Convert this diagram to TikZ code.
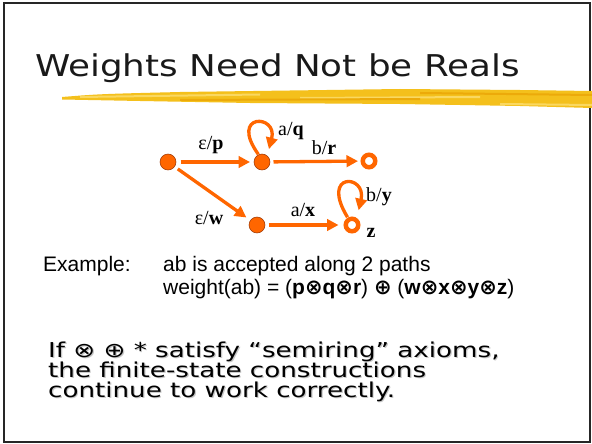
\documentclass[tikz,border=0pt]{standalone}
\usepackage{fontspec}
\usepackage{graphicx}
\setmainfont{Liberation Sans}
\newfontfamily\djv{DejaVu Sans}
\newfontfamily\tms{Liberation Serif}
\usetikzlibrary{arrows.meta}
\definecolor{orangeC}{RGB}{255,102,0}
\definecolor{edgeC}{RGB}{150,50,0}
\definecolor{brushA}{RGB}{244,192,28}
\definecolor{brushB}{RGB}{250,216,96}
\definecolor{brushC}{RGB}{236,170,10}
\newcommand{\otm}{{\djv ⊗}}
\newcommand{\opm}{{\djv ⊕}}
\newcommand{\wide}[1]{\scalebox{1.19}[1]{#1}}
\newcommand{\wider}[1]{\scalebox{1.275}[1]{#1}}
\newcommand{\shad}[1]{\rlap{\raisebox{-1pt}{\hspace{0.9pt}\textcolor{black!22}{#1}}}#1}
\newcommand{\bottext}{\vbox{\lineskiplimit=-100pt\lineskip=0pt\baselineskip=20pt\hbox{If ⊗ ⊕ * satisfy “semiring” axioms,}\hbox{the finite-state constructions}\hbox{continue to work correctly.}}}
\begin{document}
\begin{tikzpicture}[x=1pt,y=-1pt,
  state/.style={circle, fill=orangeC, draw=edgeC, line width=0.5pt, minimum size=16pt, inner sep=0pt, outer sep=0pt},
  final/.style={circle, fill=white, draw=orangeC, line width=4.5pt, minimum size=12.5pt, inner sep=0pt},
  arr/.style={draw=orangeC, line width=3.3pt, -{Triangle[length=11.5pt,width=11.5pt]}},
  lab/.style={font=\tms\fontsize{20}{20}\selectfont, inner sep=0pt},
  txt/.style={font=\fontsize{21}{24}\selectfont, inner sep=0pt, anchor=base west},
  big/.style={font=\djv\fontsize{20.5}{20}\selectfont, inner sep=0pt, anchor=base west}
]
\useasboundingbox (0,0) rectangle (592,444);
\fill[white] (0,0) rectangle (592,444);
\draw[line width=2pt, black!85] (4,3) rectangle (590,442);

% brush stroke
\fill[brushA] (62,97) .. controls (100,94) .. (180,92) -- (400,89) -- (520,90) -- (592,91) -- (592,108) -- (520,106) -- (400,104) -- (250,103) -- (140,101) -- (62,99.5) -- cycle;
\fill[brushB] (80,96) -- (260,93.5) -- (260,95.5) -- (80,98) -- cycle;
\fill[brushB] (300,97) -- (480,96) -- (480,98) -- (300,99) -- cycle;
\fill[brushB] (500,103) -- (592,104) -- (592,106) -- (500,105) -- cycle;
\fill[brushC] (180,99) -- (420,98) -- (420,100) -- (180,101) -- cycle;
\fill[brushC] (420,92) -- (592,94) -- (592,96) -- (420,94) -- cycle;

% title
\node[anchor=base west, inner sep=0pt, text=black!90] (title) at (35,77)
  {\wide{\djv\fontsize{30}{30}\selectfont Weights Need Not be Reals}};

% automaton
\node[state] (s1) at (168,162) {};
\node[state] (s2) at (262,162) {};
\node[final] (s3) at (369,161) {};
\node[state] (s4) at (257,225) {};
\node[final] (s5) at (352,225) {};

\draw[arr, shorten <=4.5pt, shorten >=4pt] (s1) -- (s2);
\draw[arr, shorten <=3.5pt, shorten >=2.5pt] (s2) -- (s3);
\draw[arr, shorten <=4pt, shorten >=5pt] (s1) -- (s4);
\draw[arr, shorten <=3.5pt, shorten >=5pt] (s4) -- (s5);
\draw[arr, shorten <=0.5pt, shorten >=7pt] (s2.115) .. controls +(-30,-42) and +(11,-42) .. (s2.50);
\draw[arr, shorten <=0.5pt, shorten >=8pt] (s5.120) .. controls +(-28,-46) and +(10,-44) .. (s5.55);

\node[lab] (lp) at (211,145) {ε/\textbf{p}};
\node[lab] (lq) at (291,131) {a/\textbf{q}};
\node[lab] (lr) at (324,148) {b/\textbf{r}};
\node[lab] (lw) at (209,218) {ε/\textbf{w}};
\node[lab] (lx) at (303,210) {a/\textbf{x}};
\node[lab] (ly) at (379,197) {b/\textbf{y}};
\node[lab] (lz) at (371,233) {\textbf{z}};

% example text
\node[txt] (ex) at (43,271) {Example:};
\node[txt] (l1) at (163,271) {ab is accepted along 2 paths};
\node[txt] (l2) at (163,294) {weight(ab) = (\textbf{p\otm q\otm r}) \textbf{\opm} (\textbf{w\otm x\otm y\otm z})};

% bottom text with light shadow (one block, baseline of last line)
\node[big] (bottom) at (48,397) {\wider{\shad{\bottext}}};
\end{tikzpicture}
\end{document}
